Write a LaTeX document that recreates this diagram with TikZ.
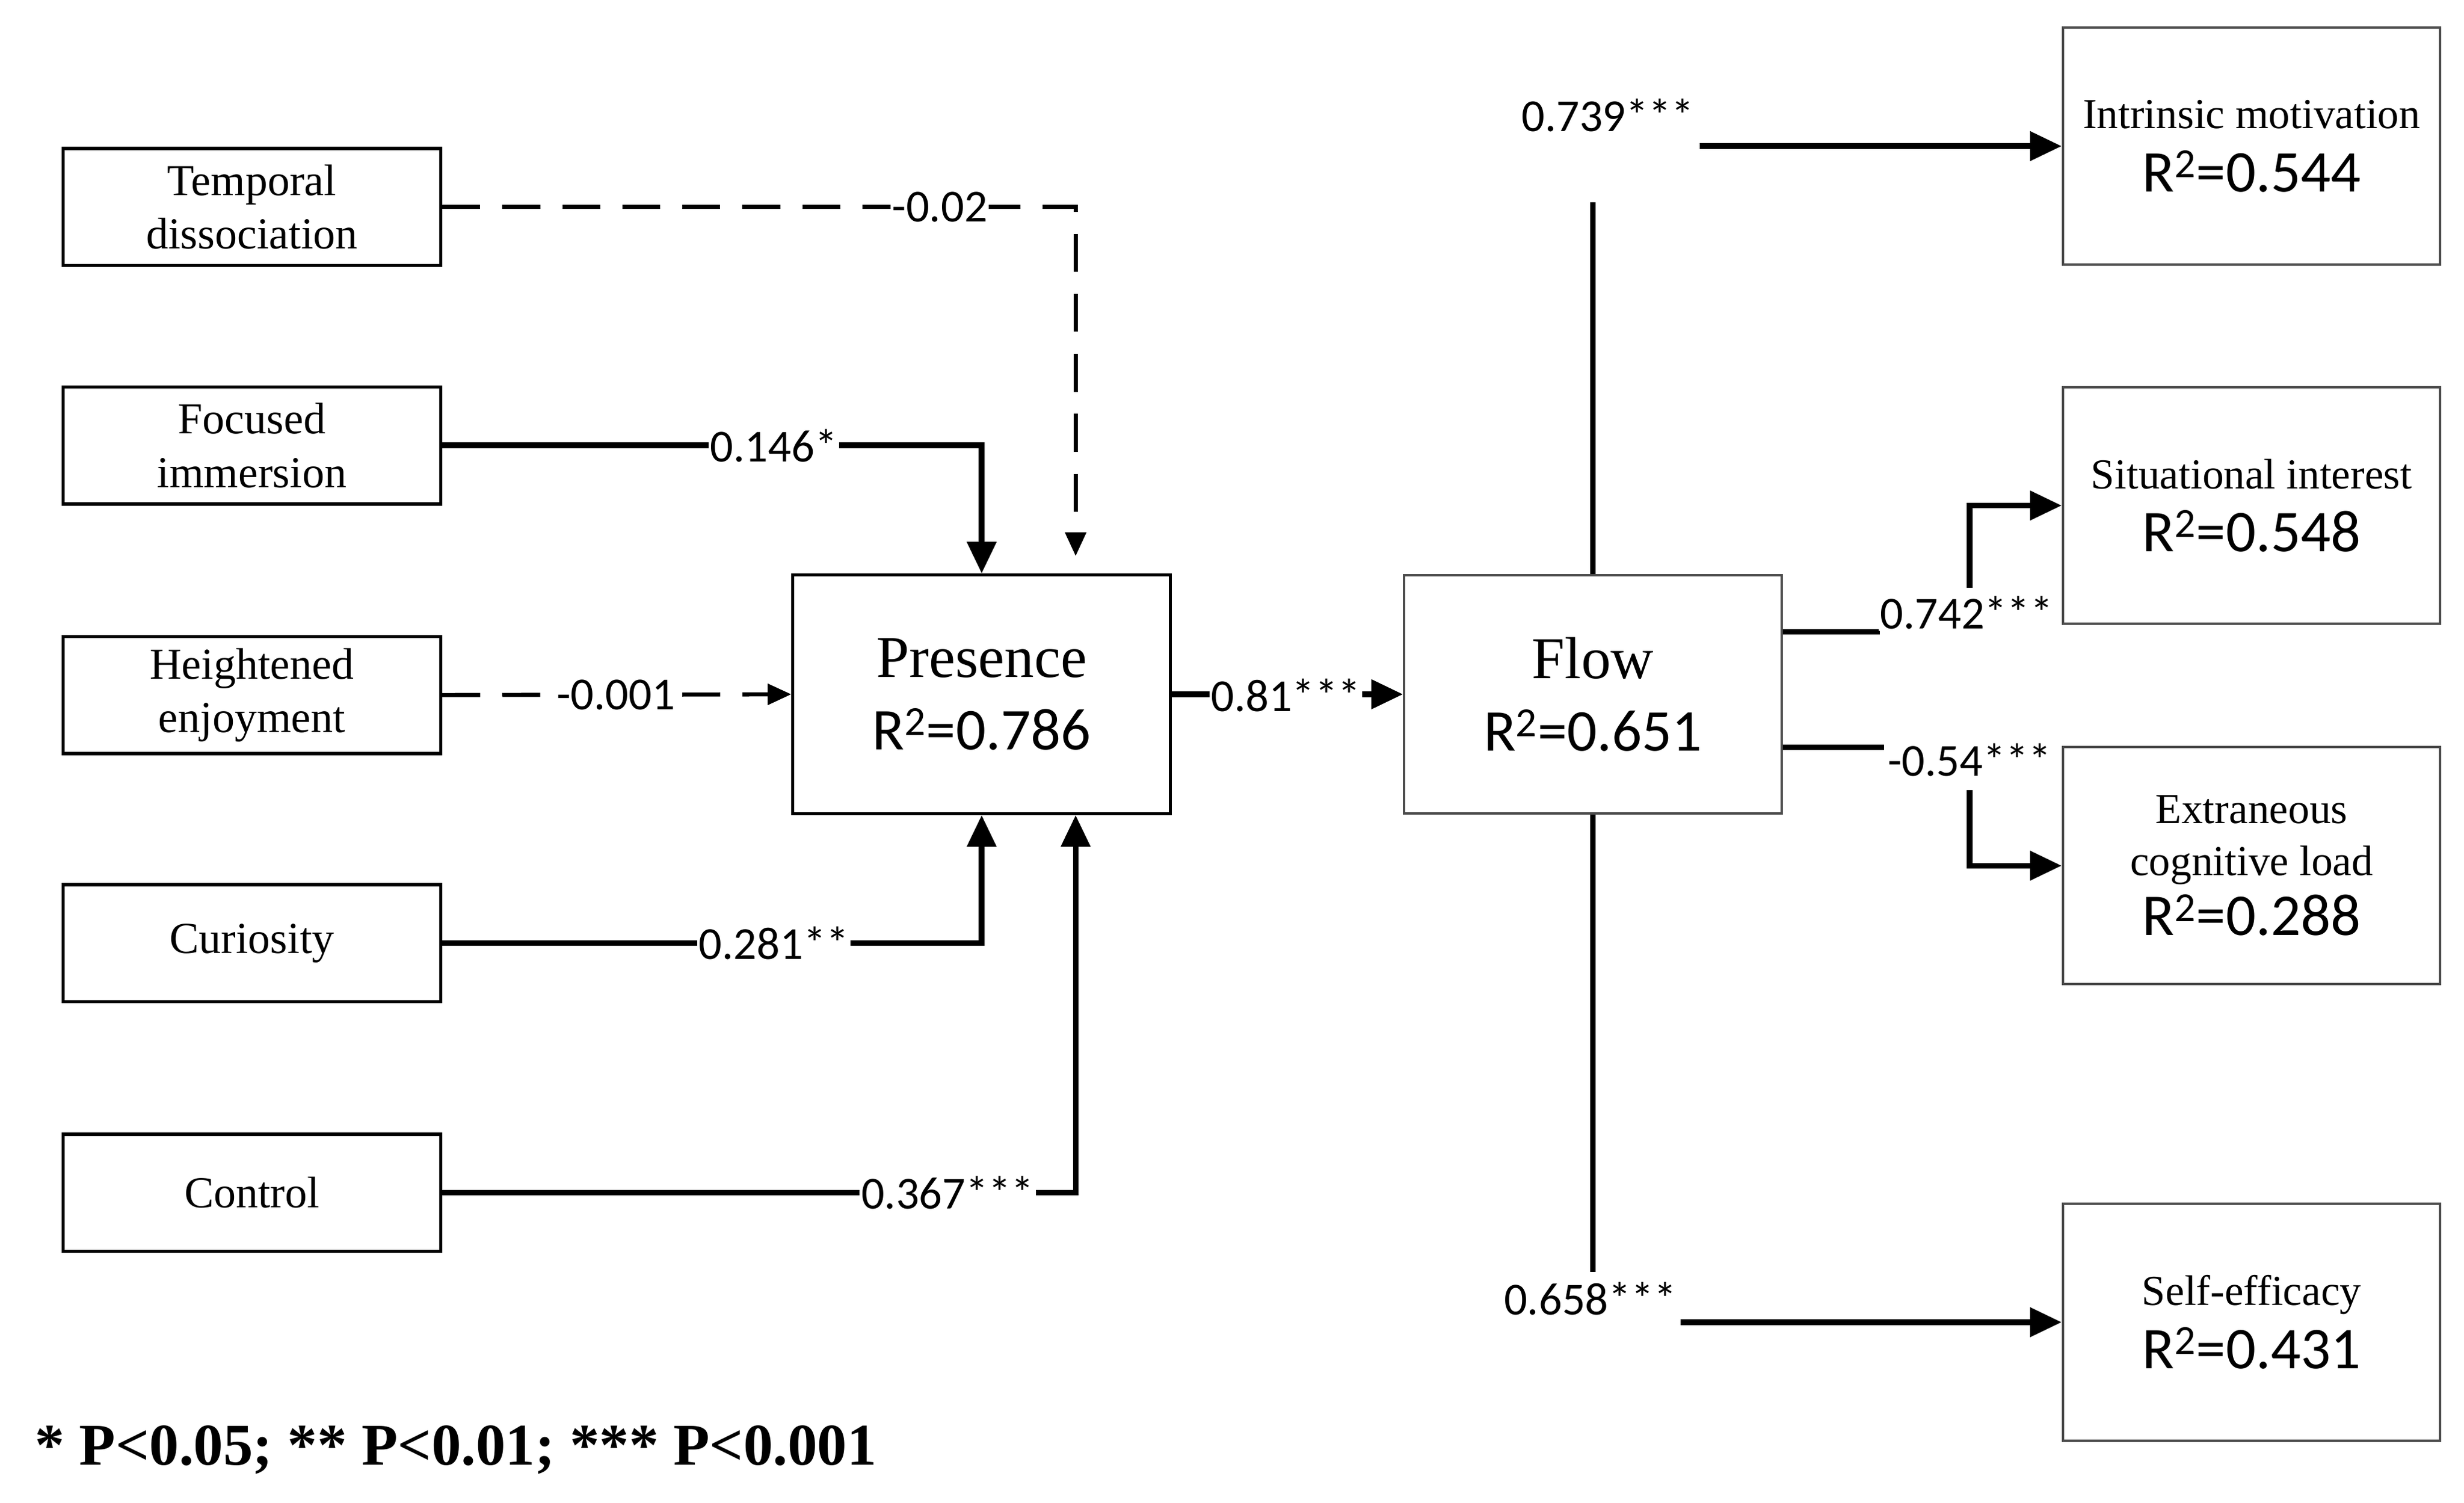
\documentclass[tikz,border=0pt]{standalone}
\usepackage{fontspec}
\setmainfont{Liberation Serif}
\newfontfamily\boxfont{Liberation Serif}
\newfontfamily\numfont{Carlito}
\usetikzlibrary{arrows.meta}
\tikzset{
  lbox/.style={draw=black, line width=2pt, minimum width=239pt, minimum height=74pt, inner sep=0pt, align=center, font=\boxfont\fontsize{28}{34}\selectfont},
  cbox/.style={draw=black, line width=2pt, minimum width=239pt, minimum height=151pt, inner sep=0pt, align=center, font=\fontsize{37.5}{46}\selectfont},
  rbox/.style={draw=black!70, line width=1.5pt, minimum width=239pt, minimum height=150pt, inner sep=0pt, align=center, font=\fontsize{37.5}{38}\selectfont},
  conn/.style={line width=3.6pt},
  dconn/.style={line width=2.6pt, dash pattern=on 24pt off 14pt},
  arr/.style={-{Triangle[length=20pt,width=18pt]}},
  darr/.style={-{Triangle[length=15pt,width=13pt]}},
  elab/.style={fill=white, inner sep=1pt, font=\numfont\fontsize{29}{31}\selectfont},
  rtitle/.style={}
}
\begin{document}
\begin{tikzpicture}[x=1pt,y=-1pt]
\fill[white] (0,0) rectangle (1560,951.1);
\useasboundingbox (0,0) rectangle (1560,951.1);

% left boxes
\node[lbox] (temp) at (159.5,131) {Temporal\\dissociation};
\node[lbox] (foc) at (159.5,282) {Focused\\immersion};
\node[lbox] (hei) at (159.5,440) {Heightened\\enjoyment};
\node[lbox] (cur) at (159.5,597) {Curiosity};
\node[lbox] (ctrl) at (159.5,755) {Control};

% central boxes
\node[cbox] (pres) at (621.5,439.5) {{\boxfont Presence}\\{\numfont R\textsuperscript{2}=0.786}};
\node[cbox, draw=black!70, line width=1.5pt] (flow) at (1008.5,439.5) {{\boxfont Flow}\\{\numfont R\textsuperscript{2}=0.651}};

% right boxes
\node[rbox] (im) at (1425.5,92.5) {{\boxfont\fontsize{27}{30}\selectfont Intrinsic motivation}\\[2pt]{\numfont R\textsuperscript{2}=0.544}};
\node[rbox] (si) at (1425.5,320) {{\boxfont\fontsize{27}{30}\selectfont Situational interest}\\[2pt]{\numfont R\textsuperscript{2}=0.548}};
\node[rbox] (ecl) at (1425.5,548) {{\boxfont\fontsize{27}{30}\selectfont Extraneous}\\[-5pt]{\boxfont\fontsize{27}{30}\selectfont cognitive load}\\[0pt]{\numfont R\textsuperscript{2}=0.288}};
\node[rbox] (se) at (1425.5,837) {{\boxfont\fontsize{27}{30}\selectfont Self-efficacy}\\[2pt]{\numfont R\textsuperscript{2}=0.431}};

% coordinates for free ends
\coordinate (tdend) at (681,352);
\coordinate (ctend) at (pres.south -| tdend);
\coordinate (imA) at (1008.5,128);
\coordinate (imB) at (1076,92.5);
\coordinate (seA) at (1008.5,805);
\coordinate (seB) at (1064,837);
\coordinate (siA) at (1190,400);
\coordinate (siB) at (1247,372);
\coordinate (ecA) at (1193,473);
\coordinate (ecB) at (1247,500);

% left connectors
\draw[dconn, darr] (temp.east) -- (temp.east -| tdend) -- (tdend);
\node[elab] at (595,131) {-0.02};
\draw[conn, arr] (foc.east) -- (foc.east -| pres.north) -- (pres.north);
\node[elab] at (490,282) {0.146*};
\draw[dconn, darr] (hei.east) -- (pres.west);
\node[elab] at (390,440) {-0.001};
\draw[conn, arr] (cur.east) -- (cur.east -| pres.south) -- (pres.south);
\node[elab] at (490,597) {0.281**};
\draw[conn, arr] (ctrl.east) -- (ctrl.east -| ctend) -- (ctend);
\node[elab] at (600,755) {0.367***};

% presence -> flow
\draw[conn, arr] (pres.east) -- (flow.west);
\node[elab] at (814,440) {0.81***};

% flow -> outcomes
\draw[conn] (flow.north) -- (imA);
\draw[conn, arr] (imB) -- (im.west);
\node[elab] at (1018,73) {0.739***};

\draw[conn] (flow.east |- siA) -- (siA);
\draw[conn, arr] (siB) -- (siB |- si.west) -- (si.west);
\node[elab] at (1245,388) {0.742***};

\draw[conn] (flow.east |- ecA) -- (ecA);
\draw[conn, arr] (ecB) -- (ecB |- ecl.west) -- (ecl.west);
\node[elab] at (1247,481) {-0.54***};

\draw[conn] (flow.south) -- (seA);
\draw[conn, arr] (seB) -- (se.west);
\node[elab] at (1007,822) {0.658***};

% legend
\node[anchor=west, inner sep=0pt, font=\boxfont\bfseries\fontsize{37.5}{40}\selectfont] (legend) at (22,918) {* P<0.05; ** P<0.01; *** P<0.001};
\end{tikzpicture}
\end{document}
